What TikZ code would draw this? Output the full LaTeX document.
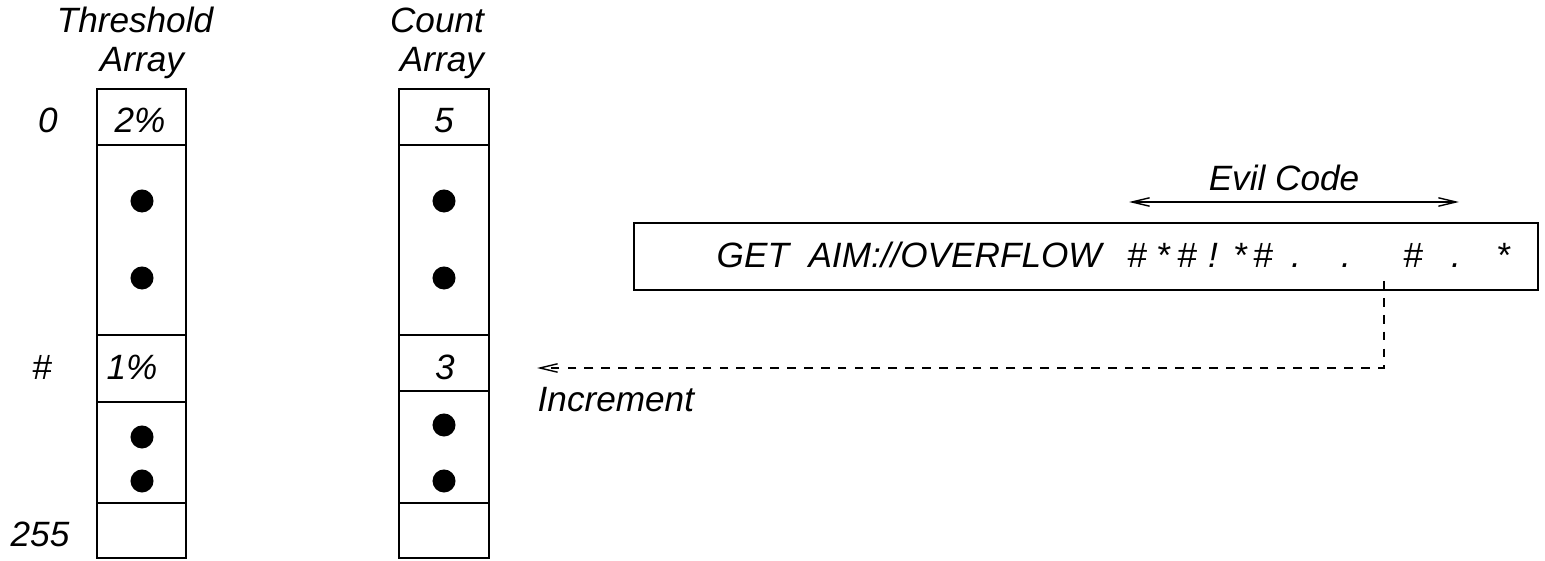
\documentclass[tikz,border=0pt]{standalone}
\usepackage{fontspec}
\setmainfont{Liberation Sans}
\usetikzlibrary{arrows.meta}
\usetikzlibrary{positioning}

\tikzset{
  cell/.style={draw,line width=0.4pt,inner sep=0pt},
  blob/.style={circle,fill=black,inner sep=0pt,minimum size=0.23cm},
  lbl/.style={font=\itshape,anchor=base,inner sep=0pt},
  barb/.tip={Straight Barb[length=5pt,width=2.4pt,line width=0.4pt]}
}

\begin{document}
\begin{tikzpicture}[line cap=butt,line join=miter,x=0.01cm,y=-0.01cm]
\useasboundingbox (0,0) rectangle (1545,561);
% threshold array
\foreach \nm/\tp/\bt in {t0/89/145,tdots/145/335,thash/335/402,tdots2/402/503,tlast/503/558}
  \node[cell,minimum width=0.89cm,minimum height={(\bt-\tp)*0.01cm}] (\nm) at (141.5,{(\tp+\bt)/2}) {};
% count array
\foreach \nm/\tp/\bt in {c0/89/145,cdots/145/335,chash/335/391,cdots2/391/503,clast/503/558}
  \node[cell,minimum width=0.90cm,minimum height={(\bt-\tp)*0.01cm}] (\nm) at (444,{(\tp+\bt)/2}) {};
% dots
\node[blob] (td1) at (142,201) {};
\node[blob] (td2) at (142,278) {};
\node[blob] (td3) at (142,437) {};
\node[blob] (td4) at (142,481) {};
\node[blob] (cd1) at (444,201) {};
\node[blob] (cd2) at (444,278) {};
\node[blob] (cd3) at (444,425) {};
\node[blob] (cd4) at (444,481) {};
% headings and indices
\node[lbl] (thead) at (135,33) {Threshold};
\node[lbl] (tarr) at (142,72) {Array};
\node[lbl] (chead) at (437,33) {Count};
\node[lbl] (carr) at (442,72) {Array};
\node[lbl] (i0) at (48,133) {0};
\node[lbl] (ihash) at (42,380) {\#};
\node[lbl] (i255) at (40,547) {255};
\node[lbl] (tv0) at (140,133) {2\%};
\node[lbl] (tv1) at (132,380) {1\%};
\node[lbl] (cv0) at (444,133) {5};
\node[lbl] (cv1) at (445,380) {3};
% request string
\node[draw,line width=0.5pt,inner sep=0pt,minimum width=9.04cm,minimum height=0.67cm] (evil) at (1086,256.5) {};
\node[lbl,anchor=base west] (get) at (716,268) {GET\ \ AIM://OVERFLOW};
\foreach \xx/\ch [count=\k] in {1137/\#,1163/*,1187/\#,1213/!,1240/*,1263/\#,1296/.,1346/.,1413/\#,1456/.,1503/*}
  \node[lbl] (ch\k) at (\xx,268) {\ch};
% evil code span
\coordinate (evilL) at (1129,202);
\coordinate (evilR) at (1459,202);
\draw[line width=0.4pt,barb-barb] (evilL) -- (evilR);
\node[lbl] (evillbl) at (1284,191) {Evil Code};
% increment pointer
\coordinate (hit) at (1384,281);
\coordinate (inc) at (537,368);
\draw[line width=0.4pt,dash pattern=on 2.5pt off 2.3pt,-barb] (hit) |- (inc);
\node[lbl,anchor=base west] (inclbl) at (537,412) {Increment};
\end{tikzpicture}
\end{document}
